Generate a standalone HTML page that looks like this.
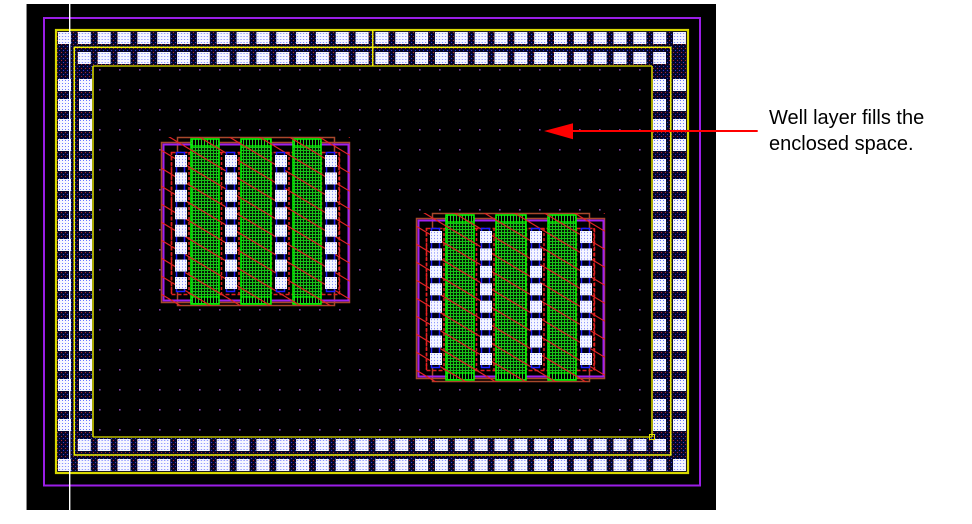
<!DOCTYPE html>
<html><head><meta charset="utf-8"><style>
html,body{margin:0;padding:0;background:#fff;}
svg{display:block;}
</style></head><body>
<svg width="972" height="524" viewBox="0 0 972 524" xmlns="http://www.w3.org/2000/svg">
<defs>
 <pattern id="band" patternUnits="userSpaceOnUse" width="4" height="4">
  <rect width="4" height="4" fill="#06062a"/>
  <rect x="1" y="0" width="1" height="1" fill="#b02828"/>
  <rect x="3" y="2" width="1" height="1" fill="#2a3ad0"/>
 </pattern>
 <pattern id="pad" patternUnits="userSpaceOnUse" width="3" height="3">
  <rect width="3" height="3" fill="#f6f6ff"/>
  <rect x="1" y="1" width="1" height="1" fill="#6a78ff"/>
 </pattern>
 <pattern id="rowT" patternUnits="userSpaceOnUse" x="58" y="32" width="19.84" height="20">
  <rect width="13" height="12" fill="url(#pad)"/>
 </pattern>
 <pattern id="rowB" patternUnits="userSpaceOnUse" x="58" y="439" width="19.84" height="20">
  <rect width="13" height="12" fill="url(#pad)"/>
 </pattern>
 <pattern id="colL" patternUnits="userSpaceOnUse" x="58" y="79" width="21" height="20">
  <rect width="13" height="12" fill="url(#pad)"/>
 </pattern>
 <pattern id="colR" patternUnits="userSpaceOnUse" x="653" y="79" width="20" height="20">
  <rect width="13" height="12" fill="url(#pad)"/>
 </pattern>
 <pattern id="dots" patternUnits="userSpaceOnUse" x="99" y="89" width="20" height="20">
  <rect width="1.6" height="1.6" fill="#7a3aa8"/>
 </pattern>
 <pattern id="gate" patternUnits="userSpaceOnUse" width="3" height="3">
  <rect width="3" height="3" fill="#041a04"/>
  <rect width="3" height="1" fill="#18c018"/>
  <rect width="1" height="3" fill="#18c018"/>
 </pattern>
 <pattern id="vbar" patternUnits="userSpaceOnUse" width="3" height="3">
  <rect width="3" height="3" fill="#000"/>
  <rect width="1" height="3" fill="#20d020"/>
 </pattern>
 <pattern id="cont" patternUnits="userSpaceOnUse" x="175" y="155" width="50" height="17.43">
  <rect width="12" height="12" fill="url(#pad)"/>
 </pattern>
 <clipPath id="clipB" clipPathUnits="userSpaceOnUse">
  <rect x="161" y="137" width="189" height="169"/>
 </clipPath>
</defs>

<!-- black canvas -->
<rect x="26" y="4" width="690" height="506" fill="#000"/>
<line x1="26.5" y1="4" x2="26.5" y2="510" stroke="#8a8a8a" stroke-width="1"/>

<!-- purple outer ring -->
<rect x="44" y="18" width="656" height="467.5" fill="none" stroke="#9a1ee6" stroke-width="2"/>

<!-- pad ring band -->
<rect x="56" y="30" width="632" height="443" fill="url(#band)"/>
<!-- inner region -->
<rect x="93" y="66" width="559" height="371" fill="#000"/>
<rect x="93" y="66" width="559" height="371" fill="url(#dots)"/>

<!-- pads -->
<rect x="58" y="32" width="628" height="12" fill="url(#rowT)"/>
<rect x="77" y="52" width="589" height="12" fill="url(#rowT)"/>
<rect x="58" y="459" width="628" height="12" fill="url(#rowB)"/>
<rect x="77" y="439" width="589" height="12" fill="url(#rowB)"/>
<rect x="58" y="79" width="34" height="352" fill="url(#colL)"/>
<rect x="653" y="79" width="33" height="352" fill="url(#colR)"/>

<!-- yellow boundaries -->
<rect x="56" y="30" width="632" height="443" fill="none" stroke="#d8d800" stroke-width="2.2"/>
<rect x="74.3" y="47.3" width="596.5" height="407.7" fill="none" stroke="#f0f000" stroke-width="1.5"/>
<line x1="93" y1="66" x2="652" y2="66" stroke="#8c8c00" stroke-width="2"/>
<line x1="93" y1="437" x2="652" y2="437" stroke="#8c8c00" stroke-width="2"/>
<line x1="93" y1="66" x2="93" y2="437" stroke="#d0d000" stroke-width="1.6"/>
<line x1="652" y1="66" x2="652" y2="437" stroke="#d0d000" stroke-width="1.6"/>
<line x1="372.7" y1="30" x2="372.7" y2="66" stroke="#e8e800" stroke-width="1.5"/>
<rect x="649.5" y="434.5" width="5" height="5" fill="none" stroke="#e8e800" stroke-width="1"/>

<!-- transistor block -->
<g id="blk">
 <rect x="161" y="137" width="189" height="169" fill="#000"/>
 <rect x="161.5" y="142.5" width="188" height="160" fill="none" stroke="#a8482c" stroke-width="1.5"/>
 <rect x="177.5" y="137.5" width="157" height="168" fill="none" stroke="#a8482c" stroke-width="1.5"/>
 <rect x="163.5" y="144.5" width="185" height="156" fill="none" stroke="#a020f0" stroke-width="2"/>
 <rect x="171.5" y="152.5" width="168" height="142" fill="none" stroke="#e02020" stroke-width="1.5" stroke-dasharray="4,2"/>
 <g stroke="#e82020" stroke-width="1.5" stroke-dasharray="3,2">
  <line x1="171.5" y1="152" x2="171.5" y2="294"/><line x1="189" y1="152" x2="189" y2="294"/>
  <line x1="221.5" y1="152" x2="221.5" y2="294"/><line x1="239" y1="152" x2="239" y2="294"/>
  <line x1="271.5" y1="152" x2="271.5" y2="294"/><line x1="289" y1="152" x2="289" y2="294"/>
  <line x1="321.5" y1="152" x2="321.5" y2="294"/><line x1="339" y1="152" x2="339" y2="294"/>
 </g>
 <!-- gates -->
 <g stroke="#00ff00" stroke-width="1.5">
  <rect x="191" y="139" width="28" height="165" fill="url(#gate)"/>
  <rect x="241" y="139" width="30" height="165" fill="url(#gate)"/>
  <rect x="293" y="139" width="28" height="165" fill="url(#gate)"/>
 </g>
 <g>
  <rect x="192" y="140" width="26" height="6" fill="url(#vbar)"/>
  <rect x="242" y="140" width="28" height="6" fill="url(#vbar)"/>
  <rect x="294" y="140" width="26" height="6" fill="url(#vbar)"/>
  <rect x="192" y="297" width="26" height="6" fill="url(#vbar)"/>
  <rect x="242" y="297" width="28" height="6" fill="url(#vbar)"/>
  <rect x="294" y="297" width="26" height="6" fill="url(#vbar)"/>
 </g>
 <g stroke="#00ff00" stroke-width="1.2">
  <line x1="191" y1="146" x2="219" y2="146"/><line x1="241" y1="146" x2="271" y2="146"/><line x1="293" y1="146" x2="321" y2="146"/>
  <line x1="191" y1="297" x2="219" y2="297"/><line x1="241" y1="297" x2="271" y2="297"/><line x1="293" y1="297" x2="321" y2="297"/>
 </g>
 <!-- diagonal hatch -->
 <path clip-path="url(#clipB)" fill="none" stroke="#e02424" stroke-width="1.2"
  d="M161,24L350,137.4M161,42L350,155.4M161,60L350,173.4M161,78L350,191.4M161,96L350,209.4M161,114L350,227.4M161,132L350,245.4M161,150L350,263.4M161,168L350,281.4M161,186L350,299.4M161,204L350,317.4M161,222L350,335.4M161,240L350,353.4M161,258L350,371.4M161,276L350,389.4M161,294L350,407.4"/>
 <!-- contact columns -->
 <g fill="#000010" stroke="#1e1eff" stroke-width="1.5">
  <rect x="176.5" y="152.5" width="8" height="139"/>
  <rect x="226.5" y="152.5" width="8" height="139"/>
  <rect x="276.5" y="152.5" width="8" height="139"/>
  <rect x="326.5" y="152.5" width="8" height="139"/>
 </g>
 <rect x="175" y="155" width="162" height="134" fill="url(#cont)"/>
</g>
<use href="#blk" transform="translate(255,76)"/>

<!-- white vertical line -->
<line x1="69.7" y1="4" x2="69.7" y2="510" stroke="#fff" stroke-width="1.4"/>

<!-- arrow -->
<line x1="572" y1="131" x2="757.7" y2="131" stroke="#ff0000" stroke-width="2"/>
<polygon points="544,131 573,123.3 573,139.3" fill="#ff0000"/>

<!-- label -->
<text x="769" y="124" font-family="Liberation Sans, Arial, sans-serif" font-size="20" fill="#000">Well layer fills the</text>
<text x="769" y="150" font-family="Liberation Sans, Arial, sans-serif" font-size="20" fill="#000">enclosed space.</text>
</svg>
</body></html>
